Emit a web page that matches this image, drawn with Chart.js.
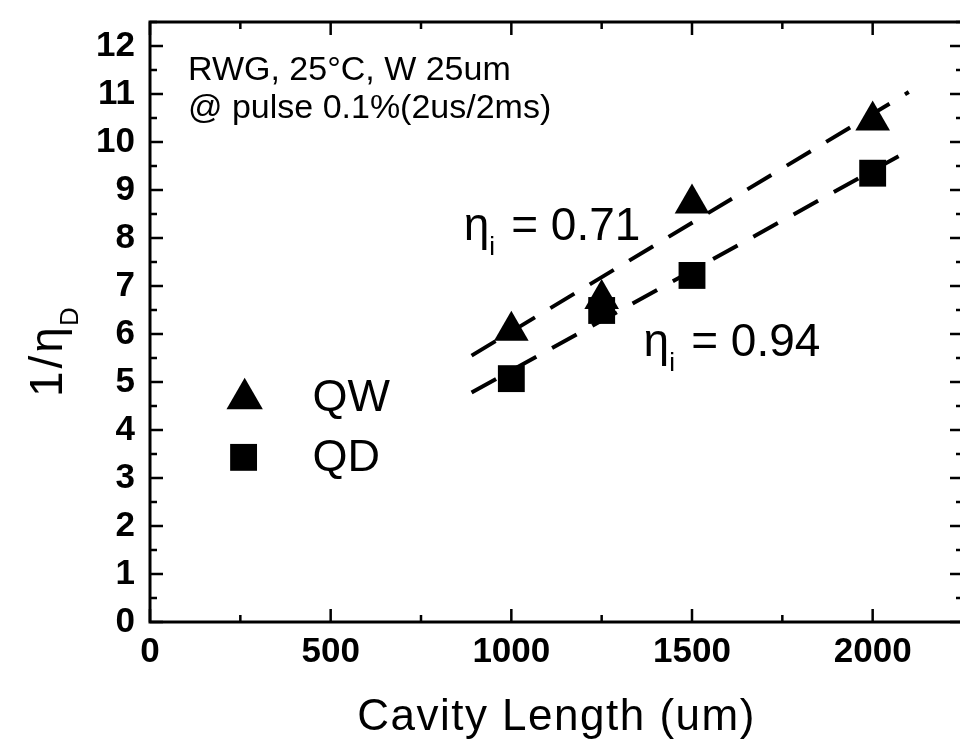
<!DOCTYPE html>
<html>
<head>
<meta charset="utf-8">
<script src="https://cdn.jsdelivr.net/npm/chart.js@4/dist/chart.umd.min.js"></script>
<style>
  html, body { margin: 0; padding: 0; background: #fff; overflow: hidden; }
  #wrap { width: 983px; height: 752px; }
</style>
</head>
<body>
<div id="wrap"><canvas id="c" width="983" height="752"></canvas></div>
<script>
// ---- data ----
const lengths  = [1000, 1250, 1500, 2000];          // cavity length (um)
const qwValues = [6.07, 6.73, 8.72, 10.45];         // 1/eta_D, QW (triangles)
const qdValues = [5.07, 6.49, 7.22, 9.35];          // 1/eta_D, QD (squares)
const fitX     = [890, 2100];                       // linear-fit extent
const qwFit    = [5.55, 11.04];                     // QW fit line
const qdFit    = [4.78, 9.82];                      // QD fit line
const xTickValues = [0, 500, 1000, 1500, 2000];
const yTickValues = [0,1,2,3,4,5,6,7,8,9,10,11,12];
const seriesNames = ['QW', 'QD'];
const xTitle = 'Cavity Length (um)';
const noteLines = ['RWG, 25°C, W 25um', '@ pulse 0.1%(2us/2ms)'];
const qwEta = '0.71';
const qdEta = '0.94';

const FONT = '"Liberation Sans", Arial, Helvetica, sans-serif';

function pts(xs, ys) { return xs.map((x, i) => ({ x: x, y: ys[i] })); }

function drawTri(ctx, x, y, r) {
  ctx.beginPath();
  ctx.moveTo(x, y - r);
  ctx.lineTo(x + Math.sin(2 * Math.PI / 3) * r, y + 0.5 * r);
  ctx.lineTo(x - Math.sin(2 * Math.PI / 3) * r, y + 0.5 * r);
  ctx.closePath();
  ctx.fill();
}
function drawSq(ctx, x, y, r) {
  const s = r / Math.SQRT2;
  ctx.fillRect(x - s, y - s, 2 * s, 2 * s);
}
function noPad(s) { s.paddingTop = 0; s.paddingBottom = 0; s.paddingLeft = 0; s.paddingRight = 0; }

const framePlugin = {
  id: 'frame',
  afterDatasetsDraw(chart) {
    const { ctx, chartArea: a, scales } = chart;
    const xs = scales.x, ys = scales.y;
    ctx.save();
    ctx.strokeStyle = '#000';
    ctx.lineWidth = 3;
    ctx.strokeRect(a.left, a.top, a.right - a.left, a.bottom - a.top);
    ctx.lineWidth = 2.5;
    for (let v = 0; v <= xs.max + 1e-6; v += 250) {
      const px = xs.getPixelForValue(v);
      const len = (v % 500 === 0) ? 13 : 7;
      ctx.beginPath();
      ctx.moveTo(px, a.bottom); ctx.lineTo(px, a.bottom - len);
      ctx.moveTo(px, a.top); ctx.lineTo(px, a.top + len);
      ctx.stroke();
    }
    for (let v = 0; v <= ys.max + 1e-6; v += 0.5) {
      const py = ys.getPixelForValue(v);
      const len = (Math.abs(v - Math.round(v)) < 1e-6) ? 13 : 7;
      ctx.beginPath();
      ctx.moveTo(a.left, py); ctx.lineTo(a.left + len, py);
      ctx.moveTo(a.right, py); ctx.lineTo(a.right - len, py);
      ctx.stroke();
    }
    ctx.restore();
  }
};

const textPlugin = {
  id: 'texts',
  afterDraw(chart) {
    const { ctx, chartArea: a, scales } = chart;
    const X = v => scales.x.getPixelForValue(v);
    const Y = v => scales.y.getPixelForValue(v);
    ctx.save();
    ctx.fillStyle = '#000';
    ctx.textAlign = 'left';
    ctx.textBaseline = 'alphabetic';

    ctx.font = '34px ' + FONT;
    ctx.fillText(noteLines[0], X(105), Y(11.29));
    ctx.fillText(noteLines[1], X(105), Y(10.50));

    function etaLabel(x, y, val) {
      ctx.font = '46px ' + FONT;
      ctx.fillText('\u03B7', x, y);
      const w = ctx.measureText('\u03B7').width;
      ctx.font = '26px ' + FONT;
      ctx.fillText('i', x + w, y + 15);
      ctx.font = '46px ' + FONT;
      ctx.fillText('= ' + val, x + w + 22, y);
    }
    etaLabel(X(868), Y(7.96), qwEta);
    etaLabel(X(1366), Y(5.54), qdEta);

    drawTri(ctx, X(262), Y(4.65), 21);
    drawSq(ctx, X(259), Y(3.43), 19);
    ctx.font = '45px ' + FONT;
    ctx.textBaseline = 'middle';
    ctx.fillText(seriesNames[0], X(450), Y(4.66));
    ctx.fillText(seriesNames[1], X(450), Y(3.40));

    ctx.textBaseline = 'alphabetic';
    ctx.textAlign = 'center';
    ctx.font = '44px ' + FONT;
    try { ctx.letterSpacing = '1.5px'; } catch (e) {}
    ctx.fillText(xTitle, (a.left + a.right) / 2, 730);
    try { ctx.letterSpacing = '0px'; } catch (e) {}

    ctx.save();
    ctx.translate(62, 397);
    ctx.rotate(-Math.PI / 2);
    ctx.textAlign = 'left';
    ctx.font = '46px ' + FONT;
    try { ctx.letterSpacing = '3px'; } catch (e) {}
    ctx.fillText('1/\u03B7', 0, 0);
    const tw = ctx.measureText('1/\u03B7').width;
    try { ctx.letterSpacing = '0px'; } catch (e) {}
    ctx.font = '26px ' + FONT;
    ctx.fillText('D', tw - 2, 16);
    ctx.restore();

    ctx.restore();
  }
};

new Chart(document.getElementById('c'), {
  type: 'scatter',
  data: {
    datasets: [
      { label: seriesNames[0], data: pts(lengths, qwValues), pointStyle: 'triangle', pointRadius: 20,
        backgroundColor: '#000', borderColor: '#000', borderWidth: 0, order: 1 },
      { label: seriesNames[1], data: pts(lengths, qdValues), pointStyle: 'rect', pointRadius: 19,
        backgroundColor: '#000', borderColor: '#000', borderWidth: 0, order: 1 },
      { label: 'QW fit', type: 'line', data: pts(fitX, qwFit), borderColor: '#000', borderWidth: 4,
        borderDash: [28, 18], pointRadius: 0, fill: false, order: 2 },
      { label: 'QD fit', type: 'line', data: pts(fitX, qdFit), borderColor: '#000', borderWidth: 4,
        borderDash: [28, 18], pointRadius: 0, fill: false, order: 2 }
    ]
  },
  options: {
    responsive: false,
    animation: false,
    devicePixelRatio: 1,
    layout: { padding: { top: 22, right: 2, bottom: 0, left: 0 } },
    plugins: { legend: { display: false }, tooltip: { enabled: false }, title: { display: false } },
    events: [],
    scales: {
      x: {
        type: 'linear', min: 0, max: 2250,
        afterFit(s) { s.height = 130; noPad(s); },
        afterBuildTicks(s) { s.ticks = xTickValues.map(v => ({ value: v })); },
        grid: { display: false, drawTicks: false },
        border: { display: false },
        ticks: { padding: 9, color: '#000', font: { family: FONT, size: 35, weight: 'bold' },
                 maxRotation: 0, autoSkip: false, callback: v => String(v) }
      },
      y: {
        type: 'linear', min: 0, max: 12.5,
        afterFit(s) { s.width = 150; noPad(s); },
        afterBuildTicks(s) { s.ticks = yTickValues.map(v => ({ value: v })); },
        grid: { display: false, drawTicks: false },
        border: { display: false },
        ticks: { padding: 15, color: '#000', font: { family: FONT, size: 35, weight: 'bold' },
                 autoSkip: false, callback: v => String(v) }
      }
    }
  },
  plugins: [framePlugin, textPlugin]
});
</script>
</body>
</html>
